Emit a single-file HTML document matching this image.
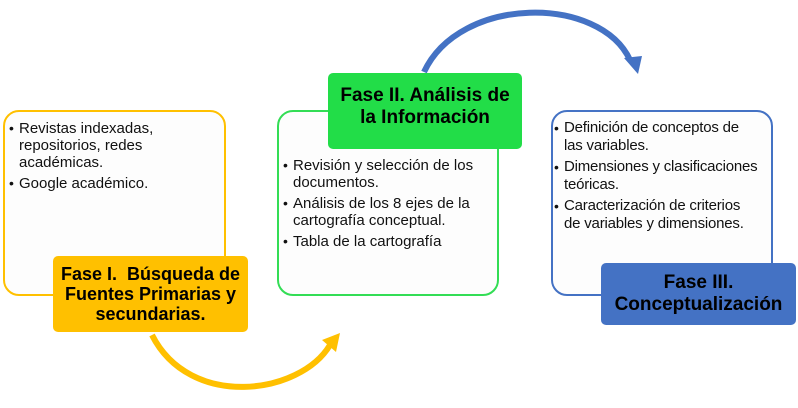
<!DOCTYPE html>
<html><head><meta charset="utf-8"><style>
body{margin:0;width:798px;height:408px;background:#fff;position:relative;overflow:hidden;font-family:"Liberation Sans",Arial,sans-serif}
.box{position:absolute;background:#fdfdfd;border-radius:16px;box-sizing:border-box;border:2px solid}
.lab{position:absolute;border-radius:5px;font-weight:bold;text-align:center;display:flex;align-items:center;justify-content:center;color:#000;font-size:18px;line-height:20px}
ul{margin:0;padding:0;list-style:none}
li{position:relative;padding-left:10px;font-size:15px;line-height:17px;margin-bottom:4px;color:#111}
li:before{content:"•";position:absolute;left:0;font-size:14px}
.n li{font-size:15px;letter-spacing:-0.2px;white-space:nowrap;line-height:18px;margin-bottom:3px}
</style></head><body>
<svg width="798" height="408" style="position:absolute;left:0;top:0">
<path d="M152,335 C190,410 300,395 330,345" fill="none" stroke="#FFC000" stroke-width="6"/>
<polygon points="340,333 322,340 336,352" fill="#FFC000"/>
<path d="M424,72 C460,-5 600,-5 630,60" fill="none" stroke="#4472C4" stroke-width="6"/>
<polygon points="638,74 624,58 642,56" fill="#4472C4"/>
</svg>
<div class="box" style="left:3px;top:110px;width:223px;height:186px;border-color:#FFC000"></div>
<div class="box" style="left:277px;top:110px;width:222px;height:186px;border-color:#33DD55"></div>
<div class="box" style="left:551px;top:110px;width:222px;height:186px;border-color:#4472C4"></div>
<ul style="position:absolute;left:9px;top:120px;width:200px"><li>Revistas indexadas, repositorios, redes académicas.</li><li>Google académico.</li></ul>
<ul style="position:absolute;left:283px;top:157px;width:212px"><li>Revisión y selección de los documentos.</li><li>Análisis de los 8 ejes de la cartografía conceptual.</li><li>Tabla de la cartografía</li></ul>
<ul class="n" style="position:absolute;left:554px;top:119px;width:215px"><li>Definición de conceptos de<br>las variables.</li><li>Dimensiones y clasificaciones<br>teóricas.</li><li>Caracterización de criterios<br>de variables y dimensiones.</li></ul>
<div class="lab" style="left:53px;top:256px;width:195px;height:76px;background:#FFC000">Fase I.&nbsp; Búsqueda de<br>Fuentes Primarias y<br>secundarias.</div>
<div class="lab" style="left:328px;top:73px;width:194px;height:76px;background:#22DD48;padding-bottom:8px;box-sizing:border-box;font-size:19px;line-height:22px">Fase II. Análisis de<br>la Información</div>
<div class="lab" style="left:601px;top:263px;width:195px;height:62px;background:#4472C4;font-size:19px;line-height:22px">Fase III.<br>Conceptualización</div>
</body></html>
